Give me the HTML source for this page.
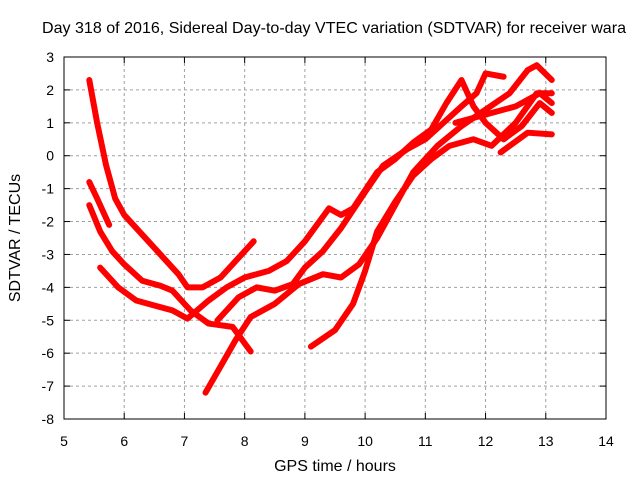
<!DOCTYPE html>
<html><head><meta charset="utf-8"><style>
body{margin:0;background:#fff;}
svg{display:block;font-family:"Liberation Sans",sans-serif;}
</style></head><body>
<svg id="chart" width="640" height="480"></svg>
<script>
const xTicks=[5,6,7,8,9,10,11,12,13,14];
const yTicks=[3,2,1,0,-1,-2,-3,-4,-5,-6,-7,-8];
const s1x=[5.42,5.55,5.7,5.85,6.0,6.3,6.6,6.9,7.05,7.3,7.6,7.9,8.15];
const s1y=[2.3,1.0,-0.3,-1.3,-1.8,-2.4,-3.0,-3.6,-4.0,-4.0,-3.7,-3.1,-2.6];
const s2x=[5.6,5.9,6.2,6.5,6.8,7.05,7.4,7.7,8.0,8.4,8.7,9.0,9.2,9.4,9.6,9.8,10.2,10.5,10.8,11.1,11.35,11.6,11.8,12.0,12.3,12.6,12.9,13.1];
const s2y=[-3.4,-4.0,-4.4,-4.55,-4.7,-4.95,-4.4,-4.0,-3.7,-3.5,-3.2,-2.6,-2.1,-1.6,-1.8,-1.6,-0.5,-0.1,0.4,0.8,1.6,2.3,1.5,1.0,0.5,0.9,1.6,1.3];
const s3x=[7.55,7.9,8.2,8.5,8.8,9.0,9.3,9.6,10.0,10.3,10.7,11.0,11.3,11.6,11.85,12.0,12.3];
const s3y=[-5.0,-4.3,-4.0,-4.1,-3.9,-3.4,-2.9,-2.2,-1.1,-0.3,0.2,0.5,1.0,1.5,1.9,2.5,2.4];
const s4x=[7.35,7.6,7.85,8.1,8.5,8.9,9.3,9.6,9.9,10.2,10.5,10.8,11.2,11.6,12.0,12.4,12.7,12.85,13.1];
const s4y=[-7.2,-6.4,-5.6,-4.9,-4.5,-3.9,-3.6,-3.7,-3.3,-2.5,-1.5,-0.5,0.3,0.9,1.4,1.9,2.6,2.75,2.3];
const s5x=[9.1,9.5,9.8,10.0,10.2,10.5,10.8,11.1,11.4,11.8,12.1,12.5,12.85,13.1];
const s5y=[-5.8,-5.3,-4.5,-3.5,-2.3,-1.4,-0.6,-0.1,0.3,0.5,0.3,1.0,1.9,1.9];
const s6x=[5.42,5.6,5.8,6.0,6.3,6.6,6.8,7.1,7.4,7.8,8.1];
const s6y=[-1.5,-2.3,-2.9,-3.3,-3.8,-3.95,-4.1,-4.7,-5.1,-5.2,-5.95];
const s7x=[12.25,12.7,13.1];
const s7y=[0.1,0.7,0.65];
const s8x=[5.42,5.55,5.75];
const s8y=[-0.8,-1.3,-2.1];
const s9x=[11.5,11.9,12.5,12.9,13.1];
const s9y=[1.0,1.2,1.5,1.9,1.6];
const series=[[s1x,s1y],[s2x,s2y],[s3x,s3y],[s4x,s4y],[s5x,s5y],[s6x,s6y],[s7x,s7y],[s8x,s8y],[s9x,s9y]];

const L=64,R=606,T=57,B=419;
const X=v=>L+(v-5)/(14-5)*(R-L);
const Y=v=>T+(3-v)/(11)*(B-T);
const svg=document.getElementById('chart');
const NS='http://www.w3.org/2000/svg';
function mk(tag,attrs,parent){const e=document.createElementNS(NS,tag);for(const k in attrs)e.setAttribute(k,attrs[k]);(parent||svg).appendChild(e);return e;}

xTicks.forEach(t=>{
  if(t>5&&t<14){const g=mk('line',{x1:X(t),x2:X(t),y1:T,y2:B,stroke:'#a0a0a0','stroke-dasharray':'3,3'});
  
  }
  const tx=mk('text',{x:X(t),y:B+27,'text-anchor':'middle','font-size':'14',fill:'#000'});
  tx.textContent=t;
  
  
  mk('line',{x1:X(t),x2:X(t),y1:B,y2:B-6,stroke:'#000'});
  mk('line',{x1:X(t),x2:X(t),y1:T,y2:T+6,stroke:'#000'});
});
yTicks.forEach(t=>{
  if(t<3&&t>-8){const g=mk('line',{x1:L,x2:R,y1:Y(t),y2:Y(t),stroke:'#a0a0a0','stroke-dasharray':'3,3'});
  
  }
  const tx=mk('text',{x:L-10,y:Y(t)+5,'text-anchor':'end','font-size':'14',fill:'#000'});
  tx.textContent=t;
  
  
  mk('line',{x1:L,x2:L+6,y1:Y(t),y2:Y(t),stroke:'#000'});
  mk('line',{x1:R,x2:R-6,y1:Y(t),y2:Y(t),stroke:'#000'});
});
series.forEach((s,i)=>{
  const pts=s[0].map((v,j)=>X(v)+','+Y(s[1][j])).join(' ');
  const p=mk('polyline',{points:pts,fill:'none',stroke:'#ff0000','stroke-width':'6','stroke-linejoin':'round','stroke-linecap':'round'});
  
  
});
const fr=mk('rect',{x:L,y:T,width:R-L,height:B-T,fill:'none',stroke:'#000'});


const ti=mk('text',{x:42,y:33,'font-size':'16',fill:'#000',textLength:'584',lengthAdjust:'spacingAndGlyphs'});
ti.textContent='Day 318 of 2016, Sidereal Day-to-day VTEC variation (SDTVAR) for receiver wara';


const xl=mk('text',{x:335,y:471,'text-anchor':'middle','font-size':'16',fill:'#000'});
xl.textContent='GPS time / hours';


const yl=mk('text',{x:0,y:0,'text-anchor':'middle','font-size':'16',fill:'#000',transform:'translate(20,238) rotate(-90)'});
yl.textContent='SDTVAR / TECUs';


</script>
</body></html>
